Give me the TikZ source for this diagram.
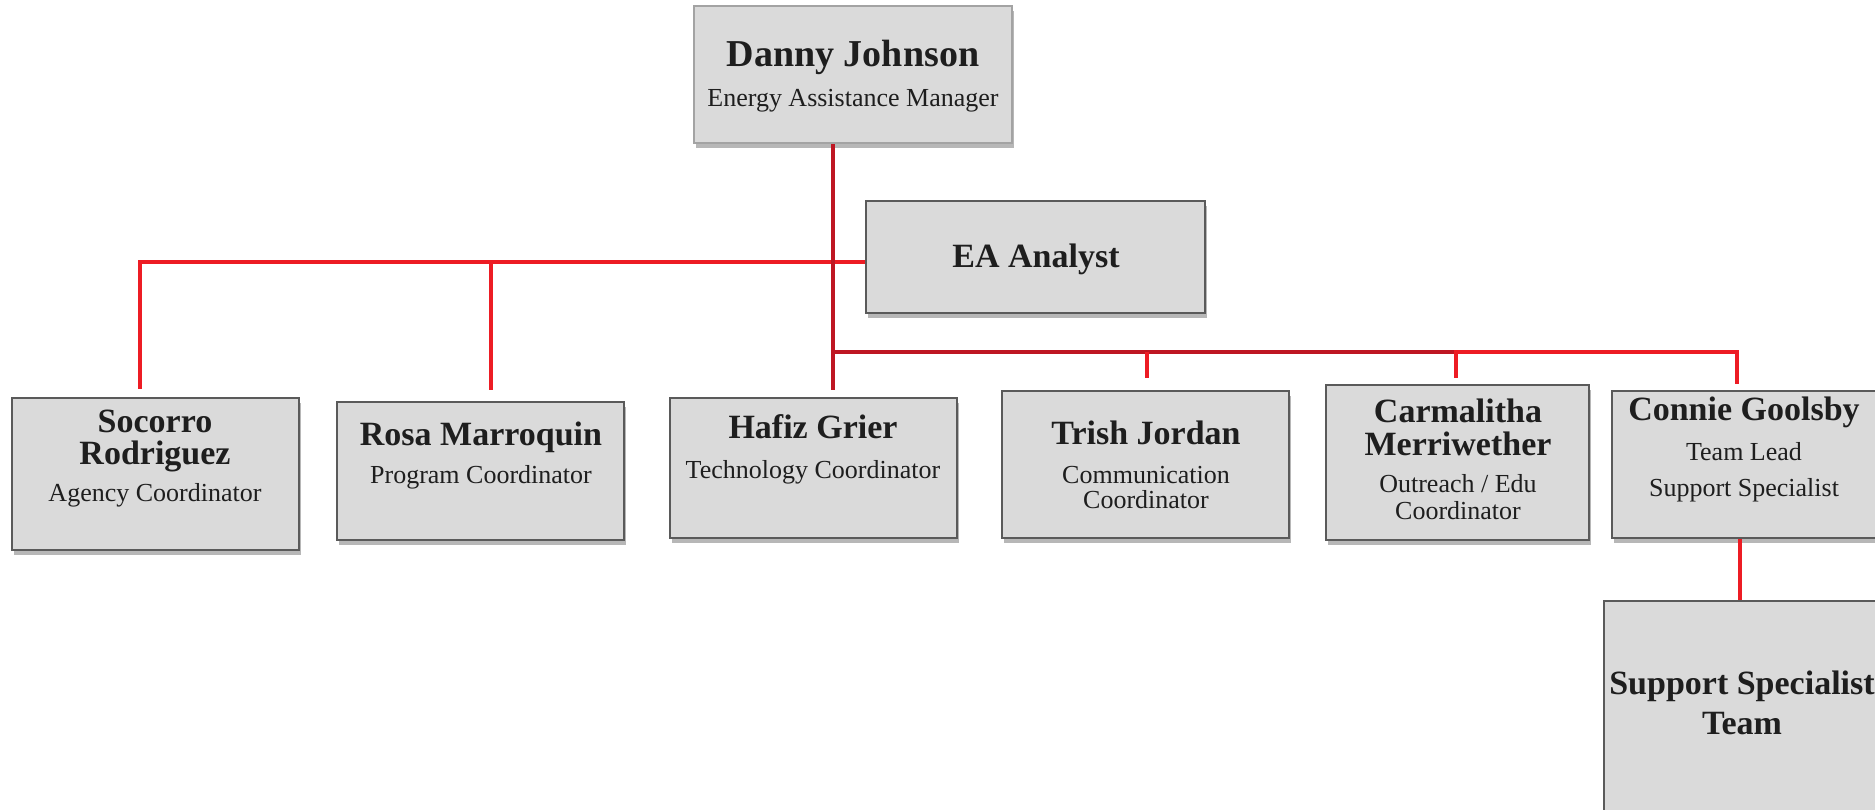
\documentclass[tikz,border=0pt]{standalone}
\usepackage{fontspec}
\setmainfont{Liberation Serif}
\usetikzlibrary{shadows}
\definecolor{boxfill}{HTML}{DADADA}
\definecolor{boxline}{HTML}{5A5A5A}
\definecolor{boxlight}{HTML}{A3A3A3}
\definecolor{redA}{HTML}{ED1C24}
\definecolor{redB}{HTML}{BE1622}
\definecolor{txt}{HTML}{1E1E1E}
\begin{document}
\begin{tikzpicture}[x=1pt,y=-1pt,
  orgbox/.style={draw=boxline, line width=2.5pt, fill=boxfill, rectangle, inner sep=0pt,
    drop shadow={shadow xshift=2pt, shadow yshift=-5pt, opacity=0.4, fill=black!70}},
  nm/.style={font=\fontsize{34}{40}\selectfont\bfseries, text=txt, anchor=base, inner sep=0pt},
  bignm/.style={font=\fontsize{38}{44}\selectfont\bfseries, text=txt, anchor=base, inner sep=0pt},
  tt/.style={font=\fontsize{26}{30}\selectfont, text=txt, anchor=base, inner sep=0pt},
  redline/.style={draw=redA, line width=4.5pt},
  darkline/.style={draw=redB, line width=4.5pt}]
\useasboundingbox (0,0) rectangle (1875,809);
\clip (0,0) rectangle (1875,809);

% boxes
\node[orgbox, draw=boxlight, minimum width=318pt, minimum height=137pt] (danny) at (853,74.5) {};
\node[orgbox, minimum width=339pt, minimum height=112pt] (ea) at (1035.5,257) {};
\node[orgbox, minimum width=287pt, minimum height=152pt] (socorro) at (155.5,474) {};
\node[orgbox, minimum width=287pt, minimum height=138pt] (rosa) at (480.5,471) {};
\node[orgbox, minimum width=287pt, minimum height=140pt] (hafiz) at (813.5,468) {};
\node[orgbox, minimum width=287pt, minimum height=147pt] (trish) at (1145.5,464.5) {};
\node[orgbox, minimum width=263pt, minimum height=155pt] (carm) at (1457.5,462.5) {};
\node[orgbox, minimum width=268pt, minimum height=147pt] (connie) at (1746,464.5) {};
\node[orgbox, minimum width=282pt, minimum height=229pt] (team) at (1745,715.5) {};

% texts
\node[bignm] (danny1) at (853,66) {Danny Johnson};
\node[tt] (danny2) at (853,106) {Energy Assistance Manager};
\node[nm] (ea1) at (1036,267) {EA Analyst};
\node[nm] (soc1) at (155,432) {Socorro};
\node[nm] (soc2) at (155,464) {Rodriguez};
\node[tt] (soc3) at (155,501) {Agency Coordinator};
\node[nm] (ros1) at (481,445) {Rosa Marroquin};
\node[tt] (ros2) at (481,483) {Program Coordinator};
\node[nm] (haf1) at (813,438) {Hafiz Grier};
\node[tt] (haf2) at (813,478) {Technology Coordinator};
\node[nm] (tri1) at (1146,444) {Trish Jordan};
\node[tt] (tri2) at (1146,483) {Communication};
\node[tt] (tri3) at (1146,508) {Coordinator};
\node[nm] (car1) at (1458,422) {Carmalitha};
\node[nm] (car2) at (1458,455) {Merriwether};
\node[tt] (car3) at (1458,492) {Outreach / Edu};
\node[tt] (car4) at (1458,519) {Coordinator};
\node[nm] (con1) at (1744,420) {Connie Goolsby};
\node[tt] (con2) at (1744,460) {Team Lead};
\node[tt] (con3) at (1744,496) {Support Specialist};
\node[nm] (tea1) at (1742,694) {Support Specialist};
\node[nm] (tea2) at (1742,734) {Team};

% junction coordinates
\coordinate (jL) at (833,262);
\coordinate (jR) at (833,352);
\coordinate (xSoc) at (140,262);
\coordinate (xRos) at (491,262);
\coordinate (xTri) at (1147,352);
\coordinate (xCar) at (1456,352);
\coordinate (xCon) at (1737,352);
\coordinate (xTeam) at (1740,560);

% connectors
\draw[redline] ([yshift=8pt]socorro.north -| xSoc) -- (xSoc) -- (ea.west |- xSoc);
\draw[redline] (xRos) -- ([yshift=11pt]rosa.north -| xRos);
\draw[darkline] (danny.south -| jL) -- ([yshift=7pt]hafiz.north -| jL);
\draw[darkline] (jR) -- (xCar);
\draw[redline] (xTri) -- ([yshift=12pt]trish.north -| xTri);
\draw[redline] ([yshift=6pt]carm.north -| xCar) -- (xCar) -- (xCon) -- ([yshift=6pt]connie.north -| xCon);
\draw[redline] (connie.south -| xTeam) -- (team.north -| xTeam);
\end{tikzpicture}
\end{document}
